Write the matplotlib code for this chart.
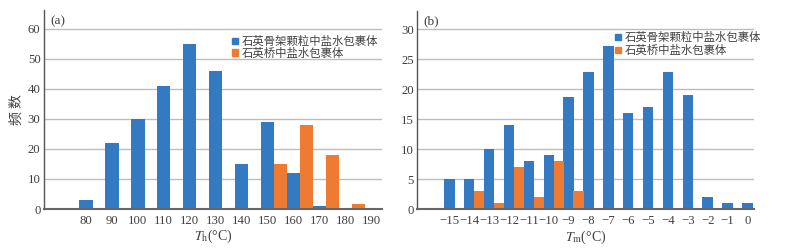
import matplotlib
matplotlib.use('Agg')
import matplotlib.pyplot as plt
from matplotlib.patches import Patch
import numpy as np

plt.rcParams['font.family'] = ['Liberation Serif', 'Noto Sans CJK SC']
plt.rcParams['mathtext.fontset'] = 'stix'

# Panel (a): homogenisation temperature Th
th_bins = [80, 90, 100, 110, 120, 130, 140, 150, 160, 170, 180, 190]
th_grain = [3, 22, 30, 41, 55, 46, 15, 29, 12, 1, 0, 0]
th_bridge = [0, 0, 0, 0, 0, 0, 0, 15, 28, 18, 1.5, 0]

# Panel (b): ice melting temperature Tm
tm_bins = [-15, -14, -13, -12, -11, -10, -9, -8, -7, -6, -5, -4, -3, -2, -1, 0]
tm_grain = [5, 5, 10, 14, 8, 9, 18.7, 22.9, 27.2, 16, 17, 22.9, 19, 2.1, 1.1, 1.1]
tm_bridge = [0, 3, 1, 7, 2, 8, 3, 0, 0, 0, 0, 0, 0, 0, 0, 0]

label_grain = '石英骨架颗粒中盐水包裹体'
label_bridge = '石英桥中盐水包裹体'

blue = '#337ac2'
orange = '#ef7b32'
text_c = '#404040'
grid_c = '#bdbdbd'
cjk = ['Noto Sans CJK SC', 'DejaVu Sans']

fig = plt.figure(figsize=(8.07, 2.49), dpi=100)
W, H = 807, 249


def make_axes(x0, x1, y0, y1):
    return fig.add_axes([x0 / W, 1 - y1 / H, (x1 - x0) / W, (y1 - y0) / H])


def style(ax):
    for s in ['top', 'right']:
        ax.spines[s].set_visible(False)
    ax.spines['left'].set_color('#555555')
    ax.spines['left'].set_linewidth(1.0)
    ax.spines['bottom'].set_color('#666666')
    ax.spines['bottom'].set_linewidth(1.5)
    ax.yaxis.grid(True, color=grid_c, linewidth=1.0)
    ax.set_axisbelow(True)
    ax.tick_params(length=0, labelsize=9.2, colors=text_c, pad=2.5)
    ax.tick_params(axis='x', pad=4)


def legend(ax, anchor, spacing):
    handles = [Patch(color=blue, label=label_grain), Patch(color=orange, label=label_bridge)]
    ax.legend(handles=handles, loc='upper right', bbox_to_anchor=anchor,
              bbox_transform=fig.transFigure, frameon=False, borderpad=0,
              handlelength=0.5, handleheight=0.5, handletextpad=0.35,
              labelspacing=spacing, prop={'family': cjk, 'size': 8.2},
              labelcolor=text_c)


# ---- (a)
ax1 = make_axes(44, 382, 10, 209)
x = np.array(th_bins, dtype=float)
w = 5.2
ax1.bar(x, th_grain, width=w, color=blue, align='center')
ax1.bar(x + 5.1, th_bridge, width=w, color=orange, align='center')
ax1.set_xlim(63.8, 194.2)
ax1.set_ylim(0, 66.3)
ax1.set_yticks(range(0, 61, 10))
ax1.set_xticks(th_bins)
style(ax1)
ax1.set_xlabel(r'$T_\mathrm{h}$(°C)', fontsize=10, color=text_c, labelpad=1)
fig.text(17 / W, 1 - 110 / H, '频 数', family=cjk, fontsize=10, color=text_c,
         rotation=90, ha='center', va='center')
fig.text(50 / W, 1 - 24 / H, '(a)', fontsize=9.5, color=text_c)
legend(ax1, (384 / W, 1 - 30 / H), 0.05)

# ---- (b)
ax2 = make_axes(417.3, 754.3, 11, 209.3)
x = np.array(tm_bins, dtype=float)
w = 0.52
ax2.bar(x, tm_grain, width=w, color=blue, align='center')
ax2.bar(x + 0.5, tm_bridge, width=w, color=orange, align='center')
ax2.set_xlim(-16.62, 0.35)
ax2.set_ylim(0, 33.05)
ax2.set_yticks(range(0, 31, 5))
ax2.set_xticks(tm_bins)
ax2.set_xticklabels([str(v).replace('-', '−') for v in tm_bins])
style(ax2)
ax2.set_xlabel(r'$T_\mathrm{m}$(°C)', fontsize=10, color=text_c, labelpad=1)
fig.text(423 / W, 1 - 24 / H, '(b)', fontsize=9.5, color=text_c)
legend(ax2, (767 / W, 1 - 26 / H), 0.2)

fig.savefig('out.png', dpi=100)
